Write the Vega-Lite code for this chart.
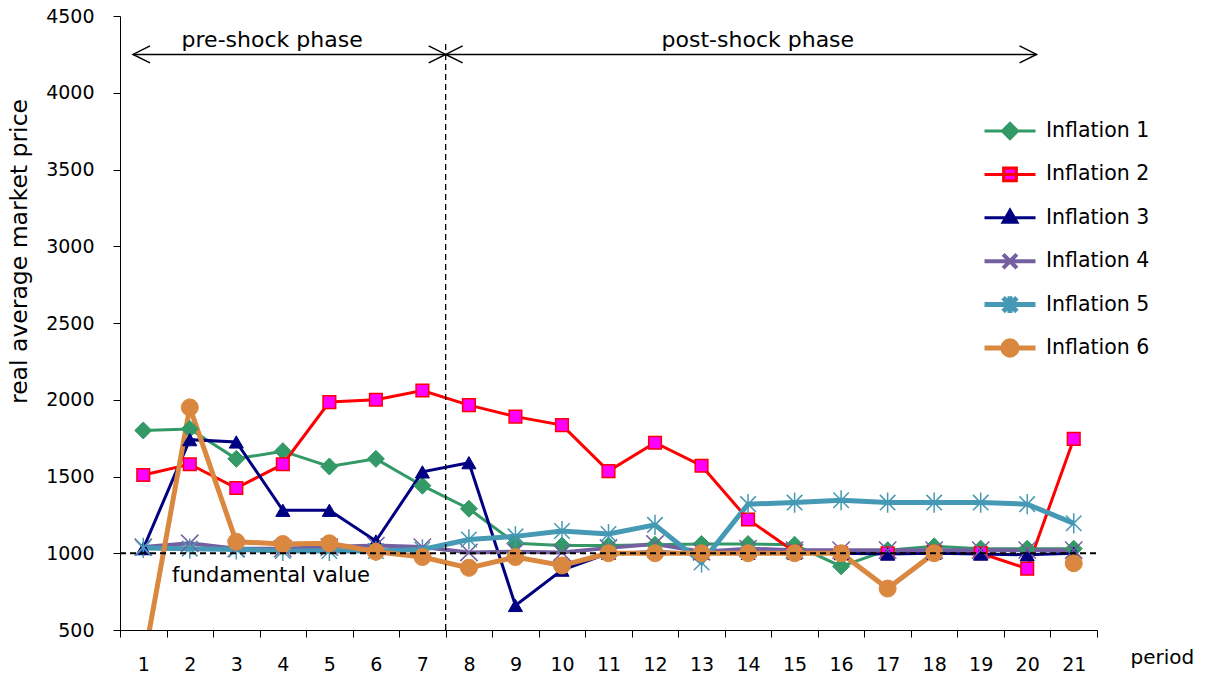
{
  "$schema": "https://vega.github.io/schema/vega-lite/v6.json",
  "width": 977,
  "height": 614,
  "autosize": "none",
  "padding": {"left": 120, "top": 16, "right": 112, "bottom": 51},
  "background": "white",
  "config": {"view": {"stroke": null}, "font": "DejaVu Sans"},
  "datasets": {
    "wide": [
      {"p": 1, "Inflation 1": 1800, "Inflation 2": 1510, "Inflation 3": 1030, "Inflation 4": 1040, "Inflation 5": 1035, "Inflation 6": 280},
      {"p": 2, "Inflation 1": 1810, "Inflation 2": 1580, "Inflation 3": 1740, "Inflation 4": 1065, "Inflation 5": 1030, "Inflation 6": 1950},
      {"p": 3, "Inflation 1": 1615, "Inflation 2": 1425, "Inflation 3": 1725, "Inflation 4": 1030, "Inflation 5": 1025, "Inflation 6": 1075},
      {"p": 4, "Inflation 1": 1665, "Inflation 2": 1580, "Inflation 3": 1280, "Inflation 4": 1030, "Inflation 5": 1015, "Inflation 6": 1060},
      {"p": 5, "Inflation 1": 1565, "Inflation 2": 1985, "Inflation 3": 1280, "Inflation 4": 1040, "Inflation 5": 1015, "Inflation 6": 1065},
      {"p": 6, "Inflation 1": 1615, "Inflation 2": 2000, "Inflation 3": 1080, "Inflation 4": 1050, "Inflation 5": 1015, "Inflation 6": 1010},
      {"p": 7, "Inflation 1": 1440, "Inflation 2": 2060, "Inflation 3": 1530, "Inflation 4": 1040, "Inflation 5": 1025, "Inflation 6": 975},
      {"p": 8, "Inflation 1": 1290, "Inflation 2": 1965, "Inflation 3": 1590, "Inflation 4": 1005, "Inflation 5": 1090, "Inflation 6": 905},
      {"p": 9, "Inflation 1": 1065, "Inflation 2": 1890, "Inflation 3": 660, "Inflation 4": 1010, "Inflation 5": 1110, "Inflation 6": 975},
      {"p": 10, "Inflation 1": 1050, "Inflation 2": 1835, "Inflation 3": 890, "Inflation 4": 1005, "Inflation 5": 1145, "Inflation 6": 920},
      {"p": 11, "Inflation 1": 1050, "Inflation 2": 1535, "Inflation 3": 1000, "Inflation 4": 1035, "Inflation 5": 1125, "Inflation 6": 1000},
      {"p": 12, "Inflation 1": 1055, "Inflation 2": 1720, "Inflation 3": 1010, "Inflation 4": 1060, "Inflation 5": 1185, "Inflation 6": 1000},
      {"p": 13, "Inflation 1": 1060, "Inflation 2": 1570, "Inflation 3": 1000, "Inflation 4": 1010, "Inflation 5": 940, "Inflation 6": 1000},
      {"p": 14, "Inflation 1": 1060, "Inflation 2": 1220, "Inflation 3": 1000, "Inflation 4": 1030, "Inflation 5": 1320, "Inflation 6": 1000},
      {"p": 15, "Inflation 1": 1055, "Inflation 2": 1010, "Inflation 3": 1000, "Inflation 4": 1020, "Inflation 5": 1330, "Inflation 6": 1000},
      {"p": 16, "Inflation 1": 915, "Inflation 2": 1000, "Inflation 3": 1000, "Inflation 4": 1020, "Inflation 5": 1345, "Inflation 6": 1000},
      {"p": 17, "Inflation 1": 1020, "Inflation 2": 1000, "Inflation 3": 995, "Inflation 4": 1020, "Inflation 5": 1330, "Inflation 6": 770},
      {"p": 18, "Inflation 1": 1045, "Inflation 2": 1010, "Inflation 3": 1000, "Inflation 4": 1020, "Inflation 5": 1330, "Inflation 6": 1000},
      {"p": 19, "Inflation 1": 1030, "Inflation 2": 1000, "Inflation 3": 995, "Inflation 4": 1020, "Inflation 5": 1330, "Inflation 6": null},
      {"p": 20, "Inflation 1": 1030, "Inflation 2": 900, "Inflation 3": 990, "Inflation 4": 1020, "Inflation 5": 1320, "Inflation 6": null},
      {"p": 21, "Inflation 1": 1030, "Inflation 2": 1745, "Inflation 3": 1000, "Inflation 4": 1020, "Inflation 5": 1195, "Inflation 6": 935}
    ],
    "fundamental": [{"p": 0.5, "p2": 21.5, "v": 1000}],
    "shock": [{"p": 7.5, "v": 500, "v2": 4320}],
    "arrows": [{"p": 0.78, "p2": 7.5, "v": 4250}, {"p": 7.5, "p2": 20.2, "v": 4250}],
    "headsLeft": [{"p": 0.78, "v": 4250}, {"p": 7.5, "v": 4250}],
    "headsRight": [{"p": 7.5, "v": 4250}, {"p": 20.2, "v": 4250}],
    "phases": [{"p": 3.77, "v": 4343, "t": "pre-shock phase"}, {"p": 14.21, "v": 4343, "t": "post-shock phase"}],
    "fv": [{"p": 1.62, "v": 852, "t": "fundamental value"}]
  },
  "encoding": {
    "x": {
      "field": "p", "type": "quantitative",
      "scale": {"domain": [0.5, 21.5], "nice": false, "zero": false},
      "axis": {
        "title": "period",
        "values": [0.5, 1, 1.5, 2, 2.5, 3, 3.5, 4, 4.5, 5, 5.5, 6, 6.5, 7, 7.5, 8, 8.5, 9, 9.5, 10, 10.5, 11, 11.5, 12, 12.5, 13, 13.5, 14, 14.5, 15, 15.5, 16, 16.5, 17, 17.5, 18, 18.5, 19, 19.5, 20, 20.5, 21, 21.5],
        "labelExpr": "datum.value % 1 === 0 ? format(datum.value, 'd') : ''",
        "tickOpacity": {"condition": {"test": "datum.value % 1 === 0", "value": 0}, "value": 1},
        "tickSize": 7, "tickColor": "black", "tickWidth": 1,
        "domainColor": "black", "domainWidth": 1,
        "labelFont": "DejaVu Sans", "labelFontSize": 19, "labelColor": "black",
        "labelPadding": 18, "labelOverlap": false, "labelFlush": false,
        "grid": false,
        "titleFont": "DejaVu Sans", "titleFontSize": 20, "titleFontWeight": "normal", "titleColor": "black",
        "titleAlign": "left", "titleBaseline": "alphabetic", "titleX": 1010, "titleY": 33
      }
    },
    "y": {
      "field": "v", "type": "quantitative",
      "scale": {"domain": [500, 4500], "nice": false, "zero": false},
      "axis": {
        "title": "real average market price",
        "values": [500, 1000, 1500, 2000, 2500, 3000, 3500, 4000, 4500],
        "format": "d",
        "tickSize": 7, "tickColor": "black", "tickWidth": 1,
        "domainColor": "black", "domainWidth": 1,
        "labelFont": "DejaVu Sans", "labelFontSize": 19, "labelColor": "black",
        "labelPadding": 19, "grid": false,
        "titleFont": "DejaVu Sans", "titleFontSize": 23.5, "titleFontWeight": "normal", "titleColor": "black",
        "titleAngle": -90, "titleAlign": "center", "titleBaseline": "middle", "titleX": -101, "titleY": 235
      }
    }
  },
  "layer": [
    {
      "data": {"name": "wide"},
      "transform": [{"fold": ["Inflation 1", "Inflation 2", "Inflation 3", "Inflation 4", "Inflation 5", "Inflation 6"], "as": ["s", "v"]}],
      "mark": {"type": "line", "clip": true, "invalid": "break-paths-show-domains"},
      "encoding": {
        "stroke": {
          "field": "s", "type": "nominal",
          "scale": {"domain": ["Inflation 1", "Inflation 2", "Inflation 3", "Inflation 4", "Inflation 5", "Inflation 6"],
                    "range": ["#339966", "#FF0000", "#000080", "#7460A0", "#4599B4", "#DA8840"]},
          "legend": {
            "title": null, "orient": "none", "legendX": 862, "legendY": 95,
            "symbolSize": 2601, "symbolStrokeWidth": 3, "symbolOpacity": 1,
            "labelFont": "DejaVu Sans", "labelFontSize": 20.5, "labelColor": "black", "labelOffset": 8,
            "clipHeight": 40, "rowPadding": 3.4,
            "encode": {"symbols": {"update": {
              "size": {"value": 2601},
              "strokeWidth": {"value": 3.5},
              "opacity": {"value": 1},
              "fill": {"signal": "datum.value === 'Inflation 1' ? '#339966' : datum.value === 'Inflation 2' ? '#FF00FF' : datum.value === 'Inflation 3' ? '#000080' : datum.value === 'Inflation 6' ? '#DA8840' : 'transparent'"},
              "shape": {"signal": "datum.value === 'Inflation 1' ? 'M-1,0L1,0M-0.3,0L0,-0.3L0.3,0L0,0.3Z' : datum.value === 'Inflation 2' ? 'M-1,0L1,0M-0.25,-0.25L0.25,-0.25L0.25,0.25L-0.25,0.25Z' : datum.value === 'Inflation 3' ? 'M-1,0L1,0M0,-0.3L0.27,0.17L-0.27,0.17Z' : datum.value === 'Inflation 4' ? 'M-1,0L1,0M-0.27,-0.27L0.27,0.27M-0.27,0.27L0.27,-0.27' : datum.value === 'Inflation 5' ? 'M-1,0L1,0M-0.27,-0.27L0.27,0.27M-0.27,0.27L0.27,-0.27M0,-0.33L0,0.33' : 'M-1,0L1,0M0.28,0A0.28,0.28 0 1 1 -0.28,0A0.28,0.28 0 1 1 0.28,0Z'"}
            }}}
          }
        },
        "strokeWidth": {
          "field": "s", "type": "nominal",
          "scale": {"type": "ordinal", "domain": ["Inflation 1", "Inflation 2", "Inflation 3", "Inflation 4", "Inflation 5", "Inflation 6"], "range": [3, 3, 3, 4, 5, 5]},
          "legend": null
        }
      }
    },
    {
      "data": {"name": "wide"},
      "transform": [{"filter": "isValid(datum['Inflation 1'])"}, {"calculate": "datum['Inflation 1']", "as": "v"}],
      "mark": {"type": "point", "clip": true, "shape": "diamond", "size": 289, "filled": true, "fill": "#339966", "stroke": "#339966", "strokeWidth": 1, "opacity": 1}
    },
    {
      "data": {"name": "wide"},
      "transform": [{"filter": "isValid(datum['Inflation 2'])"}, {"calculate": "datum['Inflation 2']", "as": "v"}],
      "mark": {"type": "point", "clip": true, "shape": "square", "size": 160, "filled": true, "fill": "#FF00FF", "stroke": "#FF0000", "strokeWidth": 1.5, "opacity": 1}
    },
    {
      "data": {"name": "wide"},
      "transform": [{"filter": "isValid(datum['Inflation 3'])"}, {"calculate": "datum['Inflation 3']", "as": "v"}],
      "mark": {"type": "point", "clip": true, "shape": "triangle-up", "size": 200, "filled": true, "fill": "#000080", "stroke": "#000080", "strokeWidth": 1, "opacity": 1}
    },
    {
      "data": {"name": "wide"},
      "transform": [{"filter": "isValid(datum['Inflation 4'])"}, {"calculate": "datum['Inflation 4']", "as": "v"}],
      "mark": {"type": "point", "clip": true, "shape": "M-1,-1L1,1M-1,1L1,-1", "size": 300, "filled": false, "stroke": "#7460A0", "strokeWidth": 1.5, "opacity": 1}
    },
    {
      "data": {"name": "wide"},
      "transform": [{"filter": "isValid(datum['Inflation 5'])"}, {"calculate": "datum['Inflation 5']", "as": "v"}],
      "mark": {"type": "point", "clip": true, "shape": "M-1,-1L1,1M-1,1L1,-1M0,-1.3L0,1.3", "size": 240, "filled": false, "stroke": "#4599B4", "strokeWidth": 1.5, "opacity": 1}
    },
    {
      "data": {"name": "wide"},
      "transform": [{"filter": "isValid(datum['Inflation 6'])"}, {"calculate": "datum['Inflation 6']", "as": "v"}],
      "mark": {"type": "point", "clip": true, "shape": "circle", "size": 289, "filled": true, "fill": "#DA8840", "stroke": "#DA8840", "strokeWidth": 1, "opacity": 1}
    },
    {
      "data": {"name": "fundamental"},
      "mark": {"type": "rule", "color": "black", "strokeWidth": 2, "strokeDash": [6, 4]},
      "encoding": {"x2": {"field": "p2"}}
    },
    {
      "data": {"name": "shock"},
      "mark": {"type": "rule", "color": "black", "strokeWidth": 1.3, "strokeDash": [6, 4]},
      "encoding": {"y2": {"field": "v2"}}
    },
    {
      "data": {"name": "arrows"},
      "mark": {"type": "rule", "color": "black", "strokeWidth": 1.5},
      "encoding": {"x2": {"field": "p2"}}
    },
    {
      "data": {"name": "headsLeft"},
      "mark": {"type": "point", "shape": "M2,-1L0,0L2,1", "size": 289, "filled": false, "stroke": "black", "strokeWidth": 1.5, "opacity": 1}
    },
    {
      "data": {"name": "headsRight"},
      "mark": {"type": "point", "shape": "M-2,-1L0,0L-2,1", "size": 289, "filled": false, "stroke": "black", "strokeWidth": 1.5, "opacity": 1}
    },
    {
      "data": {"name": "phases"},
      "mark": {"type": "text", "font": "DejaVu Sans", "fontSize": 22, "align": "center", "baseline": "middle", "color": "black"},
      "encoding": {"text": {"field": "t"}}
    },
    {
      "data": {"name": "fv"},
      "mark": {"type": "text", "font": "DejaVu Sans", "fontSize": 21, "align": "left", "baseline": "middle", "color": "black"},
      "encoding": {"text": {"field": "t"}}
    }
  ]
}
